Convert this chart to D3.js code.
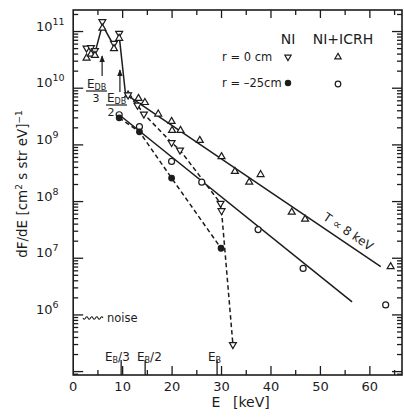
<!DOCTYPE html>
<html><head><meta charset="utf-8">
<script src="https://cdn.jsdelivr.net/npm/d3@7"></script>
<style>
body{margin:0;background:#fff}
svg{display:block}
text{font-family:"DejaVu Sans",sans-serif;fill:#1c1c1c}
</style>
</head><body>
<svg id="c" width="404" height="417"></svg>
<script>
// ---------- data ----------
const xTickLabels = [0, 10, 20, 30, 40, 50, 60];
const yExponents = [6, 7, 8, 9, 10, 11];
// low-energy region, r = 0 cm (NI and NI+ICRH overlap)
const lowE    = [2.7, 3.6, 4.4, 5.9, 8.25, 9.3];
const lowNI   = [5.1e10, 5.2e10, 4.6e10, 1.5e11, 6.2e10, 9.3e10];
const lowICRH = [3.4e10, 4.0e10, 3.8e10, 1.15e11, 5.0e10, 7.6e10];
const peakLineE = [4.4, 5.9, 8.25, 9.3, 10.6];
const peakLineF = [4.2e10, 1.3e11, 5.6e10, 8.4e10, 7.6e9];
// NI+ICRH, r = 0 cm (open up-triangles)
const icrh0E = [11.1, 13.2, 14.5, 17.2, 19.9, 20.0, 21.7, 25.6, 30.0, 32.7, 35.6, 37.9, 44.2, 46.9, 64.2];
const icrh0F = [7.6e9, 6.6e9, 5.6e9, 3.5e9, 2.6e9, 1.8e9, 1.8e9, 1.2e9, 6.2e8, 3.4e8, 2.2e8, 3.0e8, 6.5e7, 4.9e7, 7.1e6];
// NI, r = 0 cm (open down-triangles)
const ni0E = [11.1, 13.0, 14.3, 19.9, 21.6, 29.8, 30.0, 32.3];
const ni0F = [7.6e9, 5.0e9, 3.5e9, 1.1e9, 8.1e8, 9.3e7, 6.9e7, 3.0e5];
// NI+ICRH, r = -25 cm (open circles)
const icrh25E = [9.3, 13.4, 19.9, 26.0, 37.4, 46.5, 63.2];
const icrh25F = [3.4e9, 2.1e9, 5.1e8, 2.2e8, 3.2e7, 6.6e6, 1.5e6];
// NI, r = -25 cm (filled circles)
const ni25E = [9.3, 13.4, 19.9, 29.9];
const ni25F = [3.0e9, 1.7e9, 2.6e8, 1.5e7];
// straight (exponential) fits
const fitUpperE = [10.6, 62.2];
const fitUpperF = [7.9e9, 7.1e6];
const fitLowerE = [9.3, 56.4];
const fitLowerF = [3.4e9, 1.7e6];
// annotations
const EB = 29.1;
const EDBarrows = [5.85, 9.45];

// ---------- scales ----------
const svg = d3.select("#c");
const L = 73.2, R = 402, T = 10, B = 375;
const x = d3.scaleLinear().domain([0, 66.5]).range([L, R]);
const y = d3.scaleLog().domain([Math.pow(10, 4.94), Math.pow(10, 11.38)]).range([B, T]);
const ink = "#1c1c1c";
const zip = (a, b) => a.map((v, i) => [v, b[i]]);

// ---------- ticks ----------
const g = svg.append("g").attr("stroke", ink).attr("stroke-width", 1.3);
const xt = d3.range(5, 66, 5);
xt.forEach(v => {
  const major = v % 10 === 0;
  g.append("line").attr("x1", x(v)).attr("x2", x(v)).attr("y1", B).attr("y2", B - (major ? 9 : 5));
  g.append("line").attr("x1", x(v)).attr("x2", x(v)).attr("y1", T).attr("y2", T + (major ? 8 : 5));
});
const yt = [];
for (let e = 4; e <= 11; e++) for (let m = 1; m <= 9; m++) {
  const v = m * Math.pow(10, e);
  if (v >= y.domain()[0] && v <= y.domain()[1]) yt.push([v, m === 1]);
}
yt.forEach(([v, major]) => {
  g.append("line").attr("x1", L).attr("x2", L + (major ? 10 : 5)).attr("y1", y(v)).attr("y2", y(v));
  g.append("line").attr("x1", R).attr("x2", R - (major ? 10 : 5)).attr("y1", y(v)).attr("y2", y(v));
});
// E_B markers on bottom axis
[EB / 3, EB / 2, EB].forEach(v => {
  g.append("line").attr("x1", x(v)).attr("x2", x(v)).attr("y1", B).attr("y2", B - 15);
});

// frame
svg.append("rect").attr("x", L).attr("y", T).attr("width", R - L).attr("height", B - T)
  .attr("fill", "none").attr("stroke", ink).attr("stroke-width", 1.6);

// tick labels
svg.selectAll(".xl").data(xTickLabels).join("text")
  .attr("x", d => x(d)).attr("y", 391).attr("text-anchor", "middle")
  .attr("font-size", 13).text(d => d);
const yl = svg.selectAll(".yl").data(yExponents).join("text")
  .attr("x", 36).attr("y", d => y(Math.pow(10, d)) - 1).attr("font-size", 13);
yl.append("tspan").text("10");
yl.append("tspan").attr("dy", -6).attr("font-size", 9.5).text(d => d);

// axis titles
svg.append("text").attr("x", 216).attr("y", 407).attr("font-size", 14).attr("text-anchor", "middle").text("E");
svg.append("text").attr("x", 233).attr("y", 407).attr("font-size", 14).text("[keV]");
const yt2 = svg.append("text").attr("transform", "translate(27,184) rotate(-90)")
  .attr("text-anchor", "middle").attr("font-size", 13.5);
yt2.append("tspan").text("dF/dE  [cm");
yt2.append("tspan").attr("dy", -5).attr("font-size", 9).text("2");
yt2.append("tspan").attr("dy", 5).text(" s str eV]");
yt2.append("tspan").attr("dy", -5).attr("font-size", 9).text("−1");

// ---------- lines ----------
const line = d3.line().x(d => x(d[0])).y(d => y(d[1]));
const lines = svg.append("g").attr("fill", "none").attr("stroke", ink).attr("stroke-width", 1.5);
lines.append("path").attr("d", line(zip(peakLineE, peakLineF)));
lines.append("path").attr("d", line(zip(fitUpperE, fitUpperF)));
lines.append("path").attr("d", line(zip(fitLowerE, fitLowerF)));
lines.append("path").attr("d", line(zip(ni0E, ni0F))).attr("stroke-dasharray", "4.5,3");
lines.append("path").attr("d", line(zip(ni25E, ni25F))).attr("stroke-dasharray", "4.5,3");

// ---------- markers ----------
const tri = d3.symbol().type(d3.symbolTriangle).size(21)();
const triS = d3.symbol().type(d3.symbolTriangle).size(17)();
const mk = svg.append("g").attr("stroke", ink).attr("stroke-width", 1.2);
function up(data, path) {
  mk.selectAll(null).data(data).join("path").attr("d", path || tri).attr("fill", "#fff")
    .attr("transform", d => `translate(${x(d[0])},${y(d[1])})`);
}
function down(data, path) {
  mk.selectAll(null).data(data).join("path").attr("d", path || tri).attr("fill", "#fff")
    .attr("transform", d => `translate(${x(d[0])},${y(d[1])}) rotate(180)`);
}
down(zip(lowE, lowNI));
up(zip(lowE, lowICRH));
up(zip(icrh0E, icrh0F));
down(zip(ni0E, ni0F));
mk.selectAll(null).data(zip(icrh25E, icrh25F)).join("circle")
  .attr("cx", d => x(d[0])).attr("cy", d => y(d[1])).attr("r", 3).attr("fill", "#fff");
mk.selectAll(null).data(zip(ni25E, ni25F)).join("circle")
  .attr("cx", d => x(d[0])).attr("cy", d => y(d[1])).attr("r", 2.8).attr("fill", ink);

// ---------- legend ----------
svg.append("text").attr("x", 288).attr("y", 44).attr("text-anchor", "middle").attr("font-size", 14).text("NI");
svg.append("text").attr("x", 343).attr("y", 44).attr("text-anchor", "middle").attr("font-size", 14).text("NI+ICRH");
svg.append("text").attr("x", 222).attr("y", 61).attr("font-size", 11.5).text("r = 0 cm");
svg.append("text").attr("x", 222).attr("y", 87).attr("font-size", 11.5).text("r = –25cm");
const lg = svg.append("g").attr("stroke", ink).attr("stroke-width", 1.2);
lg.append("path").attr("d", triS).attr("fill", "#fff").attr("transform", "translate(288,57) rotate(180)");
lg.append("path").attr("d", triS).attr("fill", "#fff").attr("transform", "translate(338,57)");
lg.append("circle").attr("cx", 288).attr("cy", 83).attr("r", 2.6).attr("fill", ink);
lg.append("circle").attr("cx", 338).attr("cy", 84).attr("r", 2.8).attr("fill", "#fff");

// ---------- annotations ----------
const ang = Math.atan2(y(fitUpperF[1]) - y(fitUpperF[0]), x(fitUpperE[1]) - x(fitUpperE[0])) * 180 / Math.PI;
svg.append("text").attr("transform", `translate(346,235) rotate(${ang})`).attr("text-anchor", "middle")
  .attr("font-size", 12).text("T ∝ 8 keV");

svg.append("defs").append("marker").attr("id", "ah").attr("viewBox", "0 0 10 10")
  .attr("refX", 9).attr("refY", 5).attr("markerWidth", 6).attr("markerHeight", 6).attr("orient", "auto-start-reverse")
  .append("path").attr("d", "M0,1 L10,5 L0,9 z").attr("fill", ink);
const arrowTops = [56, 70], arrowBots = [76, 92];
EDBarrows.forEach((e, i) => {
  svg.append("line").attr("x1", x(e)).attr("x2", x(e)).attr("y1", arrowBots[i]).attr("y2", arrowTops[i])
    .attr("stroke", ink).attr("stroke-width", 1.2).attr("marker-end", "url(#ah)");
});
function frac(xl, yb, den, xd) {
  const t = svg.append("text").attr("x", xl).attr("y", yb).attr("font-size", 12);
  t.append("tspan").text("E");
  t.append("tspan").attr("dy", 2).attr("font-size", 8).text("DB");
  svg.append("line").attr("x1", xl - 1).attr("x2", xl + 20).attr("y1", yb + 3).attr("y2", yb + 3)
    .attr("stroke", ink).attr("stroke-width", 1.2);
  svg.append("text").attr("x", xd).attr("y", yb + 14).attr("font-size", 11).attr("text-anchor", "middle").text(den);
}
frac(87, 88, "3", 96);
frac(107, 102, "2", 111);

function ebLabel(xl, sfx) {
  const t = svg.append("text").attr("x", xl).attr("y", 361).attr("font-size", 12);
  t.append("tspan").text("E");
  t.append("tspan").attr("dy", 2).attr("font-size", 8).text("B");
  if (sfx) t.append("tspan").attr("dy", -2).text(sfx);
}
ebLabel(105, "/3");
ebLabel(137, "/2");
ebLabel(208, "");

const wave = d3.range(0, 21, 1).map(i => [83 + i, 318 + 1.6 * Math.sin(i * Math.PI / 2.5)]);
svg.append("path").attr("d", d3.line().curve(d3.curveBasis)(wave)).attr("fill", "none")
  .attr("stroke", ink).attr("stroke-width", 1.1);
svg.append("text").attr("x", 107).attr("y", 322).attr("font-size", 11.5).text("noise");
</script>
</body></html>
